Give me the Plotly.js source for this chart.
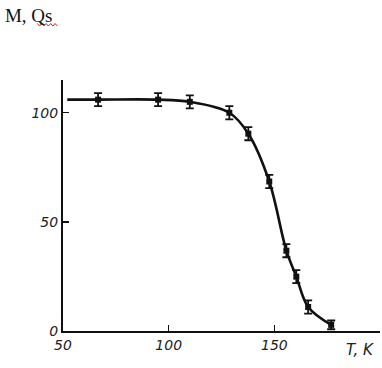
<!DOCTYPE html>
<html>
<head>
<meta charset="utf-8">
<script src="https://cdn.plot.ly/plotly-3.0.1.min.js"></script>
<style>html,body{margin:0;padding:0;background:#fff;}#chart{width:382px;height:368px;}</style>
</head>
<body>
<div id="chart"></div>
<script>
// Measured points (temperature, K) and magnetisation values
const tempK = [66.6, 95, 110, 128.7, 137.7, 147.6, 155.7, 160.4, 166, 176.9];
const magM = [106, 106, 105, 100, 90.4, 68.5, 36.8, 24.9, 11, 2.8];
const magErr = [3, 3, 3, 3, 3, 3, 3, 3, 3, 2];

// Hand-drawn fit curve
const curveT = [52, 66.6, 95, 110, 128.7, 137.7, 147.6, 155.7, 160.4, 166, 176.9];
const curveM = [106, 106, 106, 105, 100, 90.4, 68.5, 36.8, 24.9, 11, 2.8];

// Tick labels
const xTickVals = [50, 100, 150, 200];
const xTickText = ['50', '100', '150', ''];
const yTickVals = [0, 50, 100];
const yTickText = ['0', '50', '100'];

const traces = [
  {
    x: curveT, y: curveM, type: 'scatter', mode: 'lines',
    line: {color: '#111', width: 2.6, shape: 'spline', smoothing: 1},
    hoverinfo: 'skip', showlegend: false
  },
  {
    x: tempK, y: magM, type: 'scatter', mode: 'markers',
    marker: {color: '#111', size: 6, symbol: 'square'},
    error_y: {type: 'data', array: magErr, visible: true, color: '#111', thickness: 1.8, width: 4},
    showlegend: false
  }
];

const tickFont = {family: 'DejaVu Sans, sans-serif', size: 14, color: '#222', style: 'italic'};

const layout = {
  width: 382, height: 368,
  margin: {l: 63, r: 2, t: 80, b: 37, pad: 0},
  paper_bgcolor: '#fff', plot_bgcolor: '#fff',
  title: {
    text: 'M, Qs', x: 0.013, xanchor: 'left', xref: 'container',
    y: 0.957, yanchor: 'middle', yref: 'container',
    font: {family: 'Liberation Serif, serif', size: 19, color: '#111'}
  },
  xaxis: {
    range: [50, 200], showgrid: false, zeroline: false,
    showline: true, linecolor: '#111', linewidth: 2,
    ticks: 'inside', ticklen: 6, tickwidth: 1.5, tickcolor: '#111',
    tickvals: xTickVals, ticktext: xTickText, tickfont: tickFont,
    fixedrange: true
  },
  yaxis: {
    range: [0, 115], showgrid: false, zeroline: false,
    showline: true, linecolor: '#111', linewidth: 2,
    ticks: 'inside', ticklen: 6, tickwidth: 1.5, tickcolor: '#111',
    tickvals: yTickVals, ticktext: yTickText, tickfont: tickFont,
    fixedrange: true
  },
  annotations: [
    {
      text: 'T, K', xref: 'x', yref: 'paper', x: 190.5, y: -0.076,
      xanchor: 'center', yanchor: 'middle', showarrow: false,
      font: {family: 'DejaVu Sans, sans-serif', size: 15, color: '#222', style: 'italic'}
    }
  ],
  shapes: [
    {
      type: 'path', xref: 'paper', yref: 'paper',
      path: 'M -0.081 1.225 L -0.074 1.215 L -0.067 1.225 L -0.060 1.215 L -0.053 1.225 L -0.046 1.215 L -0.039 1.225 L -0.032 1.215 L -0.025 1.225 L -0.018 1.215',
      line: {color: '#e02020', width: 1}
    }
  ]
};

Plotly.newPlot('chart', traces, layout, {displayModeBar: false, staticPlot: true});
</script>
</body>
</html>
